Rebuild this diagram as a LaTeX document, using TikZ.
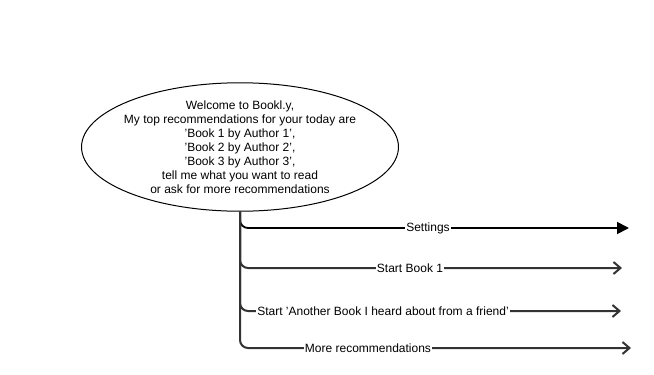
\documentclass[tikz,border=0pt]{standalone}
\usepackage{fontspec}
\setmainfont{Liberation Sans}
\usetikzlibrary{arrows.meta,shapes.geometric}
\definecolor{edgegray}{HTML}{333333}
\begin{document}
\begin{tikzpicture}[x=1pt,y=-1pt,
  every node/.style={font=\fontsize{12}{14}\selectfont},
  lbl/.style={fill=white,inner sep=1pt},
  branch/.style={line width=2pt,draw=edgegray,rounded corners=8pt,-{Straight Barb[length=7pt,width=12pt,line width=2pt]}},
  mainbranch/.style={line width=1.8pt,draw=black,rounded corners=8pt,-{Triangle[length=12pt,width=12pt]}}]
\useasboundingbox (0,0) rectangle (654,375);
\node[ellipse,draw,line width=1pt,inner xsep=-4pt,inner ysep=-1pt,align=center] (e) at (240,147)
  {Welcome to Bookl.y,\\My top recommendations for your today are\\'Book 1 by Author 1',\\'Book 2 by Author 2',\\'Book 3 by Author 3',\\tell me what you want to read\\or ask for more recommendations};
\coordinate (t1) at (629,228);
\coordinate (t2) at (622,268);
\coordinate (t3) at (621,311);
\coordinate (t4) at (631,348);
\draw[mainbranch] (e.south) |- (t1);
\draw[branch] (e.south) |- (t2);
\draw[branch] (e.south) |- (t3);
\draw[branch] (e.south) |- (t4);
\node[lbl] (l1) at (428,228) {Settings};
\node[lbl] (l2) at (410,268) {Start Book 1};
\node[lbl] (l3) at (383,311) {Start 'Another Book I heard about from a friend'};
\node[lbl] (l4) at (368,348) {More recommendations};
\end{tikzpicture}
\end{document}
